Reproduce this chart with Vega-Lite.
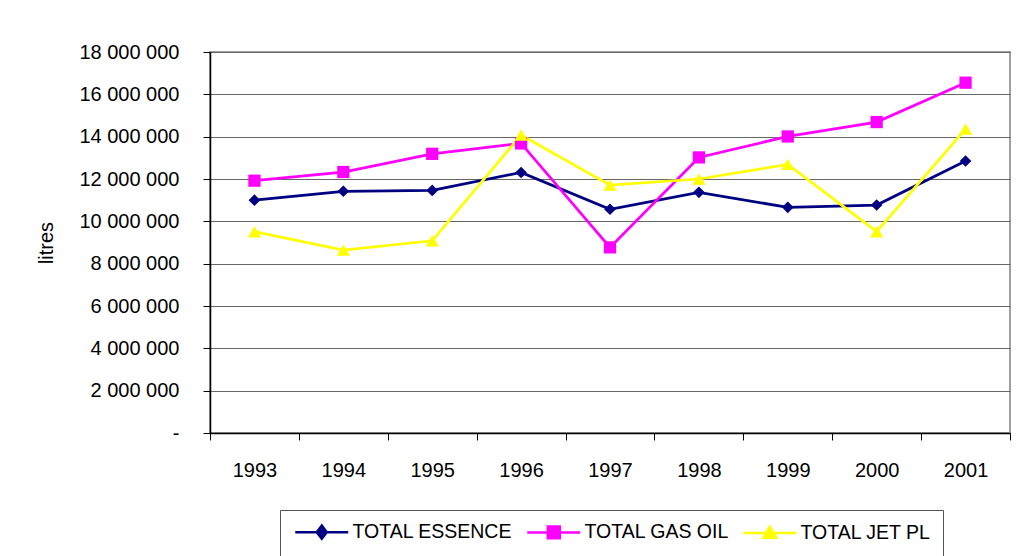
{
  "$schema": "https://vega.github.io/schema/vega-lite/v6.json",
  "width": 800,
  "height": 381,
  "padding": {"left": 210, "top": 52, "right": 11, "bottom": 123},
  "autosize": {"type": "none"},
  "background": "white",
  "config": {
    "font": "Liberation Sans",
    "locale": {"number": {"decimal": ",", "thousands": " ", "grouping": [3], "currency": ["", ""]}},
    "view": {"stroke": "#a0a0a0", "strokeWidth": 2},
    "axis": {"labelFont": "Liberation Sans", "labelFontSize": 20, "labelColor": "black", "titleFont": "Liberation Sans", "titleFontSize": 20, "titleFontWeight": "normal", "titleColor": "black", "domainColor": "black", "domainWidth": 1.5, "tickColor": "black", "tickWidth": 1, "tickSize": 7, "zindex": 1}
  },
  "data": {
    "values": [
      {"year": "1993", "series": "TOTAL ESSENCE", "value": 11000000},
      {"year": "1994", "series": "TOTAL ESSENCE", "value": 11420000},
      {"year": "1995", "series": "TOTAL ESSENCE", "value": 11460000},
      {"year": "1996", "series": "TOTAL ESSENCE", "value": 12310000},
      {"year": "1997", "series": "TOTAL ESSENCE", "value": 10570000},
      {"year": "1998", "series": "TOTAL ESSENCE", "value": 11370000},
      {"year": "1999", "series": "TOTAL ESSENCE", "value": 10660000},
      {"year": "2000", "series": "TOTAL ESSENCE", "value": 10770000},
      {"year": "2001", "series": "TOTAL ESSENCE", "value": 12850000},
      {"year": "1993", "series": "TOTAL GAS OIL", "value": 11920000},
      {"year": "1994", "series": "TOTAL GAS OIL", "value": 12330000},
      {"year": "1995", "series": "TOTAL GAS OIL", "value": 13190000},
      {"year": "1996", "series": "TOTAL GAS OIL", "value": 13680000},
      {"year": "1997", "series": "TOTAL GAS OIL", "value": 8770000},
      {"year": "1998", "series": "TOTAL GAS OIL", "value": 13020000},
      {"year": "1999", "series": "TOTAL GAS OIL", "value": 14010000},
      {"year": "2000", "series": "TOTAL GAS OIL", "value": 14690000},
      {"year": "2001", "series": "TOTAL GAS OIL", "value": 16550000},
      {"year": "1993", "series": "TOTAL JET PL", "value": 9510000},
      {"year": "1994", "series": "TOTAL JET PL", "value": 8640000},
      {"year": "1995", "series": "TOTAL JET PL", "value": 9080000},
      {"year": "1996", "series": "TOTAL JET PL", "value": 14080000},
      {"year": "1997", "series": "TOTAL JET PL", "value": 11710000},
      {"year": "1998", "series": "TOTAL JET PL", "value": 12000000},
      {"year": "1999", "series": "TOTAL JET PL", "value": 12690000},
      {"year": "2000", "series": "TOTAL JET PL", "value": 9510000},
      {"year": "2001", "series": "TOTAL JET PL", "value": 14360000}
    ]
  },
  "encoding": {
    "x": {
      "field": "year", "type": "ordinal", "bandPosition": 0.5,
      "scale": {"type": "band", "paddingInner": 0, "paddingOuter": 0},
      "axis": {"title": null, "labelAngle": 0, "tickBand": "extent", "labelPadding": 20, "grid": false}
    },
    "y": {
      "field": "value", "type": "quantitative",
      "scale": {"domain": [0, 18000000], "nice": false},
      "axis": {"title": "litres", "values": [0, 2000000, 4000000, 6000000, 8000000, 10000000, 12000000, 14000000, 16000000, 18000000], "format": ",d", "labelExpr": "datum.value === 0 ? '-\u00a0\u00a0' : datum.label", "labelPadding": 24, "titlePadding": 22, "grid": true, "gridColor": "#666666", "gridWidth": 1}
    },
    "color": {
      "field": "series", "type": "nominal",
      "scale": {"domain": ["TOTAL ESSENCE", "TOTAL GAS OIL", "TOTAL JET PL"], "range": ["#000080", "#FF00FF", "#FFFF00"]},
      "legend": {
        "title": null, "orient": "none", "legendX": 70, "legendY": 458, "direction": "horizontal",
        "strokeColor": "#555555", "padding": 12, "columnPadding": 9, "labelOffset": 41,
        "symbolSize": 169, "labelFontSize": 19.5, "labelFont": "Liberation Sans", "labelColor": "black",
        "symbolStrokeWidth": 2.5,
        "encode": {"symbols": {"update": {
          "shape": {"signal": "datum.value === 'TOTAL ESSENCE' ? 'M-1,0L7.15,0M3.08,-1L3.85,0L3.08,1L2.31,0Z' : datum.value === 'TOTAL GAS OIL' ? 'M-1,0L7.15,0M2.16,-0.92L4,-0.92L4,0.92L2.16,0.92Z' : 'M-1,0L7.15,0M3.08,-0.95L4.08,0.75L2.08,0.75Z'"},
          "fill": {"scale": "color", "field": "value"},
          "stroke": {"scale": "color", "field": "value"},
          "strokeWidth": {"value": 2.5},
          "opacity": {"value": 1}
        }}}
      }
    }
  },
  "layer": [
    {"mark": {"type": "line", "strokeWidth": 2.75}},
    {
      "transform": [{"filter": "datum.series === 'TOTAL ESSENCE'"}],
      "mark": {"type": "point", "shape": "diamond", "filled": true, "opacity": 1, "size": 135}
    },
    {
      "transform": [{"filter": "datum.series === 'TOTAL GAS OIL'"}],
      "mark": {"type": "point", "shape": "square", "filled": true, "opacity": 1, "size": 150}
    },
    {
      "transform": [{"filter": "datum.series === 'TOTAL JET PL'"}],
      "mark": {"type": "point", "shape": "triangle-up", "filled": true, "opacity": 1, "size": 175}
    }
  ]
}
